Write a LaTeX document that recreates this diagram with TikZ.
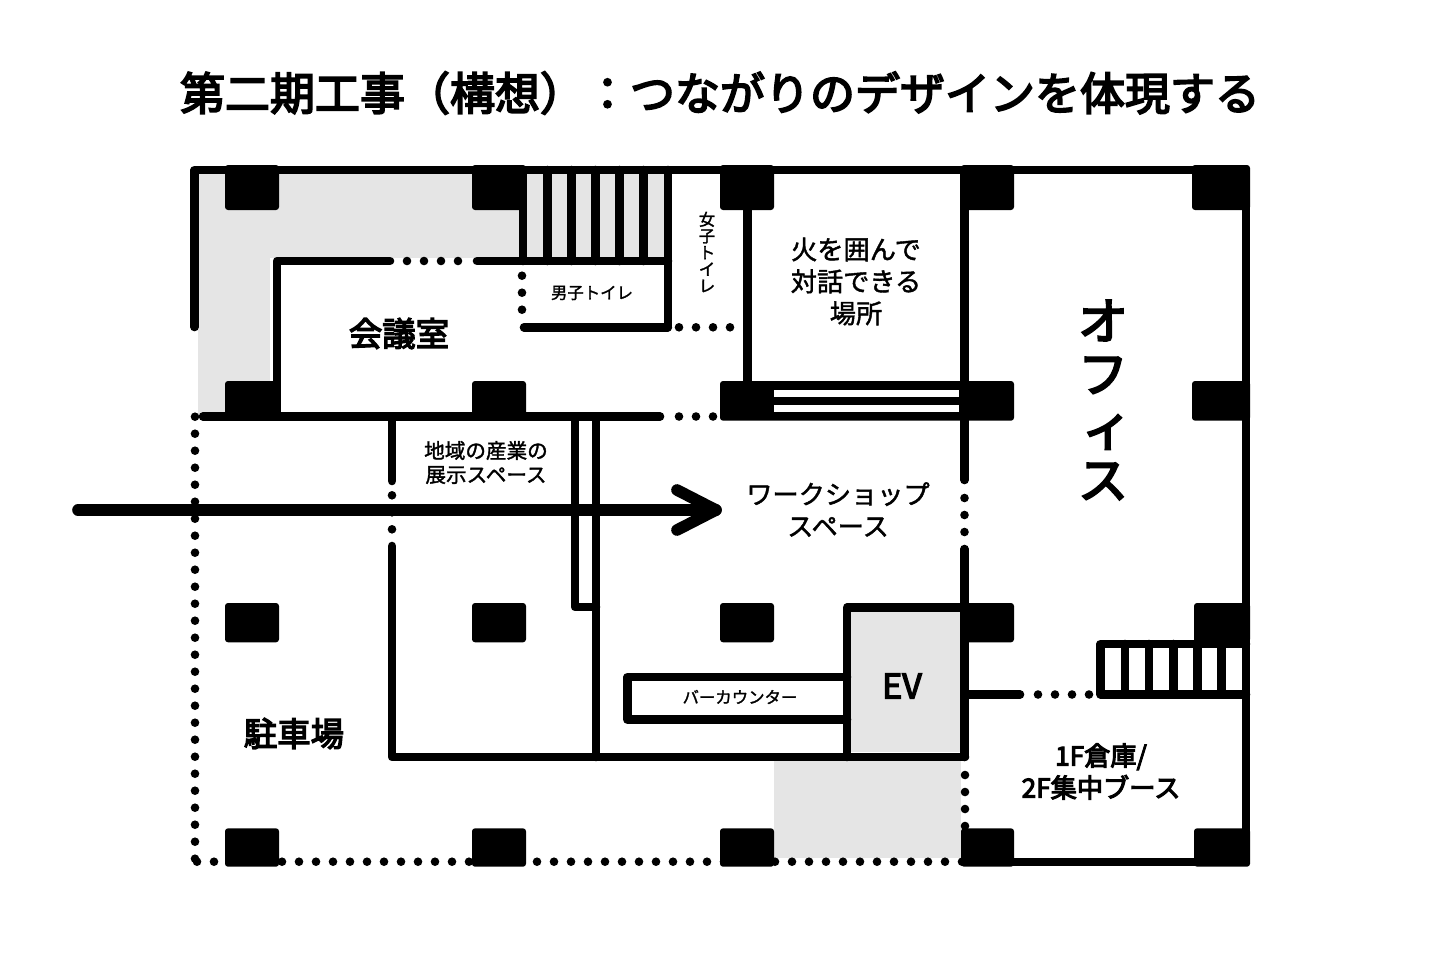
\documentclass[tikz,border=0pt]{standalone}
\usepackage{fontspec}
\newfontfamily\jp[FakeBold=1.6]{Noto Sans CJK JP}
\newfontfamily\jpheavy[FakeBold=4]{Noto Sans CJK JP}
\usetikzlibrary{positioning}

\tikzset{
  wall/.style={line width=4.3pt,line cap=round,line join=round},
  dotwall/.style={wall,dash pattern=on 0pt off 8.5pt},
  pillar/.style={fill=black,rounded corners=1.5pt},
  graybox/.style={fill=black!10},
  roomlabel/.style={font=\jp\fontsize{13.1}{16}\selectfont,align=center,inner sep=0pt},
  smalllabel/.style={font=\jp\fontsize{8.2}{8.3}\selectfont,align=center,inner sep=0pt},
  midlabel/.style={font=\jp\fontsize{10.3}{12}\selectfont,align=center,inner sep=0pt},
  biglabel/.style={font=\jpheavy\fontsize{16.7}{20}\selectfont,align=center,inner sep=0pt}
}

\begin{document}
\begin{tikzpicture}[x=0.5pt,y=-0.5pt]
\useasboundingbox (0,0) rectangle (1440,975);

\node[inner sep=0pt,font=\jpheavy\fontsize{22.5}{27}\selectfont] (title) at (720,93) {第二期工事（構想）：つながりのデザインを体現する};

% gray areas
\fill[graybox] (198,174) rectangle (520,258);
\fill[graybox] (198,174) rectangle (270,414);
\fill[graybox] (523,174) rectangle (668,258);
\fill[graybox] (851,611) rectangle (961,752);
\fill[graybox] (774,761) rectangle (961,858);

% outer walls
\draw[wall] (194.5,327) -- (194.5,170) -- (1246,170) -- (1246,862) -- (965,862);

% meeting room
\draw[wall] (277,414) -- (277,261) -- (390,261);
\draw[dotwall] (407,261) -- (462,261);
\draw[wall] (477,261) -- (668,261);
\draw[wall] (203,416.5) -- (660,416.5);
\draw[dotwall] (679,416.5) -- (716,416.5);

% stairs top
\draw[wall] (523,170) -- (523,261);
\draw[wall] (547.4,170) -- (547.4,261);
\draw[wall] (571.4,170) -- (571.4,261);
\draw[wall] (595.2,170) -- (595.2,261);
\draw[wall] (619.5,170) -- (619.5,261);
\draw[wall] (643.6,170) -- (643.6,261);
\draw[wall] (667.8,170) -- (667.8,327);

% toilets
\draw[dotwall] (522,275.7) -- (522,312);
\draw[wall] (524,327.3) -- (667.8,327.3);
\draw[dotwall] (679,327.3) -- (733,327.3);
\draw[wall] (747.4,190) -- (747.4,390);

% walls to the entrance side
\draw[wall] (392,416.5) -- (392,481);
\draw[dotwall] (392,495.3) -- (392,532);
\draw[wall] (392,546) -- (392,757) -- (965,757);
\draw[wall] (575,416.5) -- (575,607) -- (596,607);
\draw[wall] (596,416.5) -- (596,757);

% centre wall
\draw[wall] (964.5,170) -- (964.5,480);
\draw[dotwall] (964.5,498) -- (964.5,534);
\draw[wall] (964.5,549) -- (964.5,757);
\draw[dotwall] (965,775) -- (965,830);

% EV and counter
\draw[wall] (964.5,607.5) -- (847,607.5) -- (847,757);
\draw[wall] (847,677) -- (627.5,677) -- (627.5,719.7) -- (847,719.7);

% right stairs
\draw[wall] (965,694.5) -- (1020,694.5);
\draw[dotwall] (1038,694.5) -- (1092,694.5);
\draw[wall] (1246,644) -- (1100.7,644) -- (1100.7,694.5) -- (1246,694.5);
\draw[wall] (1125,644) -- (1125,694.5);
\draw[wall] (1149,644) -- (1149,694.5);
\draw[wall] (1173.3,644) -- (1173.3,694.5);
\draw[wall] (1197.3,644) -- (1197.3,694.5);
\draw[wall] (1221.4,644) -- (1221.4,694.5);

% dotted outline
\draw[dotwall] (195,416.7) -- (195,861);
\draw[dotwall] (197,861.7) -- (965,861.7);

% pillars
\fill[pillar] (225,165) rectangle (279,210);
\fill[pillar] (472,165) rectangle (526,210);
\fill[pillar] (720,165) rectangle (774,210);
\fill[pillar] (961,165) rectangle (1014,210);
\fill[pillar] (1192,165) rectangle (1250,210);
\fill[pillar] (225,381) rectangle (279,420.7);
\fill[pillar] (472,381) rectangle (526,420.7);
\fill[pillar] (720,381) rectangle (1014,420.7);
\fill[pillar] (1192,381) rectangle (1250,420.7);
\fill[pillar] (225,603) rectangle (279,642.3);
\fill[pillar] (472,603) rectangle (526,642.3);
\fill[pillar] (720,603) rectangle (774,642.3);
\fill[pillar] (961,603) rectangle (1014,642.3);
\fill[pillar] (1194,603) rectangle (1250,642.3);
\fill[pillar] (225,828.3) rectangle (279,866.7);
\fill[pillar] (472,828.3) rectangle (526,866.7);
\fill[pillar] (720,828.3) rectangle (774,866.7);
\fill[pillar] (961,828.3) rectangle (1014,866.7);
\fill[pillar] (1194,828.3) rectangle (1250,866.7);
\fill[white] (774,390) rectangle (958.5,396.7);
\fill[white] (774,405.3) rectangle (958.5,412.3);

% arrow
\coordinate (entry) at (78,510);
\coordinate (arrowtip) at (716,510);
\coordinate (headup) at (677,490);
\coordinate (headdown) at (677,530);
\draw[wall,line width=5.8pt] (entry) -- (arrowtip);
\draw[wall,line width=5.8pt] (headup) -- (arrowtip) -- (headdown);

% labels
\node[biglabel] (meeting) at (399,333.5) {会議室};
\node[smalllabel] (mens) at (592,293) {男子トイレ};
\node[smalllabel] (ladies) at (707,252) {女\\子\\ト\\イ\\レ};
\node[roomlabel] (fire) at (856,281.5) {火を囲んで\\対話できる\\場所};
\node[font=\jpheavy\fontsize{25}{26.5}\selectfont,align=center,inner sep=0pt] (office) at (1103,400) {オ\\フ\\\hspace*{4pt}ィ\\ス};
\node[midlabel] (display) at (486,462.5) {地域の産業の\\展示スペース};
\node[roomlabel] (workshop) at (838,509.5) {ワークショップ\\スペース};
\node[biglabel] (parking) at (294,733.5) {駐車場};
\node[font=\jpheavy\fontsize{17}{20}\selectfont,inner sep=0pt] (ev) at (902,686) {EV};
\node[smalllabel] (counter) at (740,697) {バーカウンター};
\node[roomlabel,font=\jpheavy\fontsize{13.1}{16}\selectfont] (storage) at (1101,771.5) {1F倉庫/\\2F集中ブース};

\end{tikzpicture}
\end{document}
